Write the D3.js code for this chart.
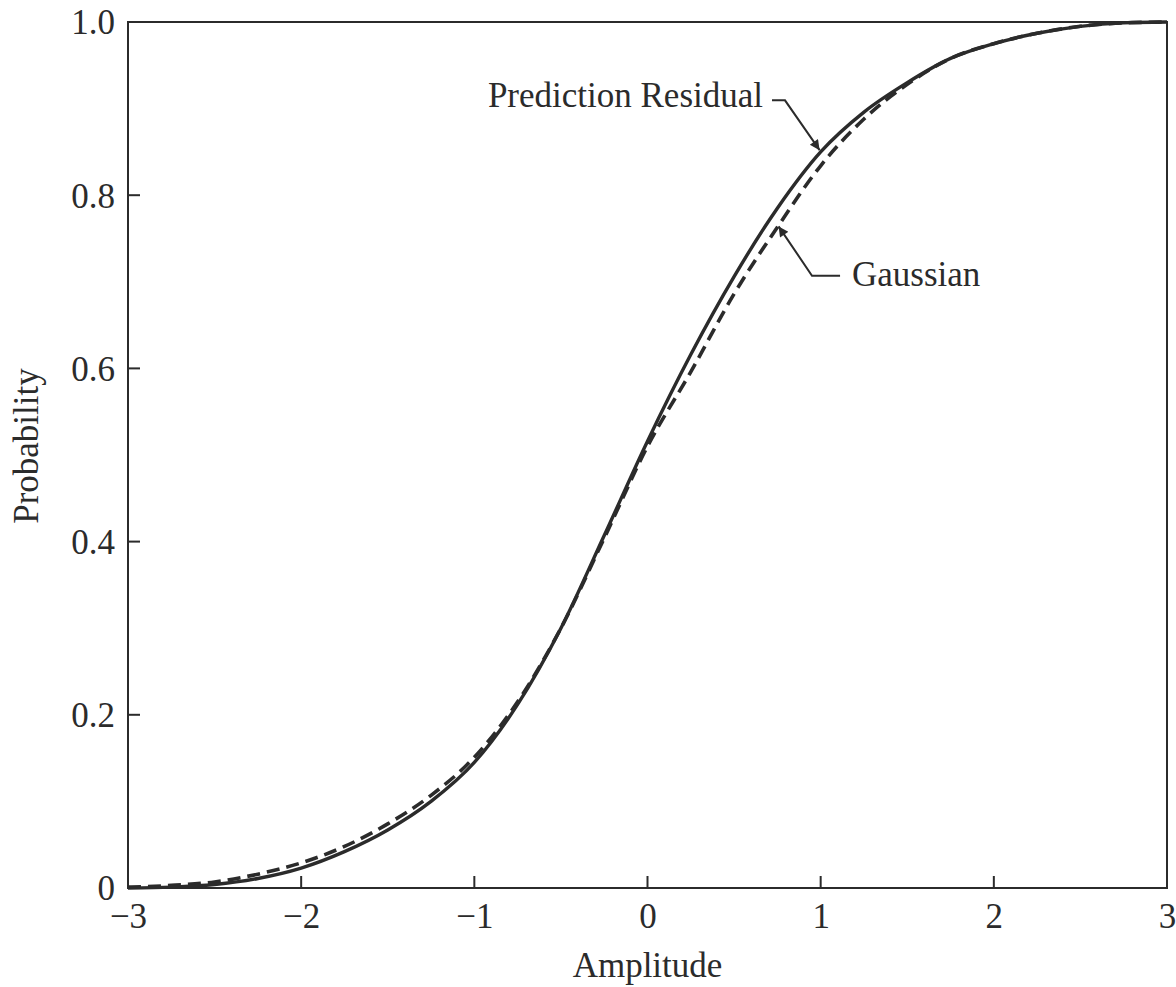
<!DOCTYPE html>
<html>
<head>
<meta charset="utf-8">
<script src="https://cdn.jsdelivr.net/npm/d3@7"></script>
<style>
  html, body { margin: 0; padding: 0; background: #fff; }
  svg { display: block; }
  text { font-family: "Liberation Serif", "DejaVu Serif", serif; fill: #2b2b2b; }
</style>
</head>
<body>
<svg id="chart" width="1176" height="987"></svg>
<script>
// ---- data ----
const amplitude = [-3, -2.75, -2.5, -2.25, -2, -1.75, -1.5, -1.25, -1, -0.75, -0.5, -0.25, 0,
                   0.25, 0.5, 0.75, 1, 1.25, 1.5, 1.75, 2, 2.25, 2.5, 2.75, 3];
const predictionResidual = [0.000, 0.001, 0.004, 0.011, 0.023, 0.042, 0.067, 0.100, 0.145, 0.212, 0.300, 0.407, 0.516,
                            0.616, 0.706, 0.785, 0.850, 0.896, 0.930, 0.958, 0.975, 0.987, 0.995, 0.999, 1.000];
const gaussian = [0.001, 0.003, 0.007, 0.016, 0.029, 0.048, 0.074, 0.107, 0.151, 0.215, 0.300, 0.404, 0.510,
                  0.596, 0.686, 0.763, 0.834, 0.888, 0.928, 0.958, 0.975, 0.987, 0.995, 0.999, 1.000];
const xTicks = [-3, -2, -1, 0, 1, 2, 3];
const xTickLabels = ["\u22123", "\u22122", "\u22121", "0", "1", "2", "3"];
const yTicks = [0, 0.2, 0.4, 0.6, 0.8, 1.0];
const yTickLabels = ["0", "0.2", "0.4", "0.6", "0.8", "1.0"];
const seriesNames = ["Prediction Residual", "Gaussian"];
const xTitle = "Amplitude";
const yTitle = "Probability";

// ---- layout ----
const svg = d3.select("#chart");
const mLeft = 128, mRight = 1167, mTop = 22, mBottom = 888;
const x = d3.scaleLinear().domain([-3, 3]).range([mLeft, mRight]);
const y = d3.scaleLinear().domain([0, 1]).range([mBottom, mTop]);
const ink = "#2b2b2b";
const fontSize = 35;

// markers
const defs = svg.append("defs");
defs.append("marker")
  .attr("id", "arrow")
  .attr("viewBox", "0 0 10 10")
  .attr("refX", 10).attr("refY", 5)
  .attr("markerWidth", 16).attr("markerHeight", 10)
  .attr("markerUnits", "userSpaceOnUse")
  .attr("orient", "auto")
  .append("path").attr("d", "M0,0 L10,5 L0,10 z").attr("fill", ink);

// frame
svg.append("rect")
  .attr("x", mLeft).attr("y", mTop)
  .attr("width", mRight - mLeft).attr("height", mBottom - mTop)
  .attr("fill", "none").attr("stroke", ink).attr("stroke-width", 2);

// x ticks (inward) and labels
const xAxis = d3.axisBottom(x).tickValues(xTicks).tickSize(0).tickFormat((d, i) => xTickLabels[i]);
const gx = svg.append("g").attr("transform", `translate(0,${mBottom})`).call(xAxis);
gx.select(".domain").remove();
gx.selectAll("text").attr("dy", null).attr("y", 40)
  .style("font-size", fontSize + "px").attr("fill", ink);
svg.append("g").selectAll("line")
  .data(xTicks.filter(d => d > -3 && d < 3)).join("line")
  .attr("x1", d => x(d)).attr("x2", d => x(d))
  .attr("y1", mBottom).attr("y2", mBottom - 12)
  .attr("stroke", ink).attr("stroke-width", 2);

// y ticks (inward) and labels
const yAxis = d3.axisLeft(y).tickValues(yTicks).tickSize(0).tickFormat((d, i) => yTickLabels[i]);
const gy = svg.append("g").attr("transform", `translate(${mLeft},0)`).call(yAxis);
gy.select(".domain").remove();
gy.selectAll("text").attr("x", -13).attr("dy", "0.34em")
  .style("font-size", fontSize + "px").attr("fill", ink);
svg.append("g").selectAll("line")
  .data(yTicks.filter(d => d > 0 && d < 1)).join("line")
  .attr("x1", mLeft).attr("x2", mLeft + 12)
  .attr("y1", d => y(d)).attr("y2", d => y(d))
  .attr("stroke", ink).attr("stroke-width", 2);

// titles
svg.append("text").attr("x", (mLeft + mRight) / 2).attr("y", 977)
  .attr("text-anchor", "middle").style("font-size", fontSize + "px").text(xTitle);
svg.append("text")
  .attr("transform", `translate(38,446) rotate(-90)`)
  .attr("text-anchor", "middle").style("font-size", fontSize + "px").text(yTitle);

// curves
const line = d3.line().x(d => x(d[0])).y(d => y(d[1])).curve(d3.curveMonotoneX);
svg.append("path")
  .datum(amplitude.map((a, i) => [a, gaussian[i]]))
  .attr("d", line).attr("fill", "none").attr("stroke", ink)
  .attr("stroke-width", 3.6).attr("stroke-dasharray", "13,7");
svg.append("path")
  .datum(amplitude.map((a, i) => [a, predictionResidual[i]]))
  .attr("d", line).attr("fill", "none").attr("stroke", ink)
  .attr("stroke-width", 3.4);

// annotations
svg.append("text").attr("x", x(0.667)).attr("y", y(0.902))
  .attr("text-anchor", "end").style("font-size", fontSize + "px").text(seriesNames[0]);
svg.append("path")
  .attr("d", `M${x(0.719)},${y(0.9095)} L${x(0.794)},${y(0.9095)} L${x(0.994)},${y(0.852)}`)
  .attr("fill", "none").attr("stroke", ink).attr("stroke-width", 2)
  .attr("marker-end", "url(#arrow)");

svg.append("text").attr("x", x(1.181)).attr("y", y(0.695))
  .attr("text-anchor", "start").style("font-size", fontSize + "px").text(seriesNames[1]);
svg.append("path")
  .attr("d", `M${x(1.112)},${y(0.707)} L${x(0.95)},${y(0.707)} L${x(0.757)},${y(0.764)}`)
  .attr("fill", "none").attr("stroke", ink).attr("stroke-width", 2)
  .attr("marker-end", "url(#arrow)");
</script>
</body>
</html>
